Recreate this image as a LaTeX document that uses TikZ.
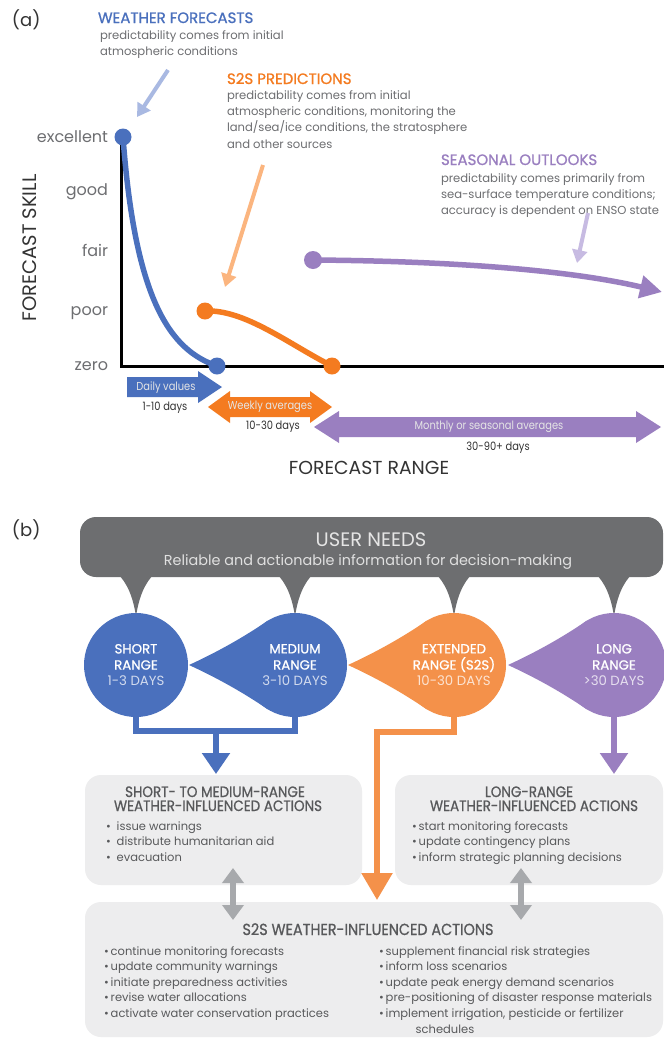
\documentclass[tikz,border=0pt]{standalone}
\usepackage{fontspec}
\setmainfont{Poppins}
\newfontfamily\medfont{Poppins}[FakeBold=1]
\newfontfamily\condfont{Poppins}[FakeStretch=0.86]
\newfontfamily\hdfont{Poppins}[FakeStretch=0.9,FakeBold=0.8]
\usetikzlibrary{arrows.meta,calc}
\definecolor{wblue}{HTML}{4A70BD}
\definecolor{lblue}{HTML}{A9B9E2}
\definecolor{sorange}{HTML}{F47B20}
\definecolor{lorange}{HTML}{FBB57F}
\definecolor{corange}{HTML}{F4914A}
\definecolor{spurple}{HTML}{9A7FC0}
\definecolor{lpurple}{HTML}{C7BBE2}
\definecolor{txtgray}{HTML}{6D6E71}
\definecolor{darktxt}{HTML}{333333}
\definecolor{boxgray}{HTML}{6D6E70}
\definecolor{panel}{HTML}{EDEDEE}
\definecolor{arrgray}{HTML}{A7A9AC}
\definecolor{headgray}{HTML}{58595B}
\begin{document}
\begin{tikzpicture}[x=1pt,y=-1pt,
  every node/.style={inner sep=0pt, outer sep=0pt},
  sdot/.style={circle, minimum size=17pt},
  skillcurve/.style={line width=5.5pt, line cap=round},
  ptr/.style={line width=4pt, -{Triangle[length=13pt,width=15pt]}},
  lbl/.style={anchor=base east, font=\fontsize{16}{16}\selectfont, text=txtgray},
  capt/.style={anchor=base west, align=left, font=\fontsize{11.6}{16.3}\selectfont, text=txtgray},
  ttl/.style={anchor=base west, font=\medfont\fontsize{15}{16}\selectfont},
  arrlbl/.style={font=\condfont\fontsize{11.5}{12}\selectfont, text=white!90!black},
  daylbl/.style={font=\condfont\fontsize{11.5}{12}\selectfont, text=darktxt},
  conn/.style={line width=5.5pt},
  bubble/.style={circle, minimum size=104pt, align=center, text=white, font=\fontsize{13.3}{16.2}\selectfont},
  panelbox/.style={rectangle, rounded corners=16pt, fill=panel},
  bhead/.style={anchor=base, font=\hdfont\fontsize{15}{15}\selectfont, text=headgray},
  blist/.style={anchor=base west, align=left, font=\fontsize{11.5}{15.6}\selectfont, text=headgray},
  garr/.style={line width=6pt, draw=arrgray, {Triangle[length=15pt,width=21pt]}-{Triangle[length=15pt,width=21pt]}},
]
\useasboundingbox (0,0) rectangle (664,1039);
\fill[white] (0,0) rectangle (664,1039);

% ---------------- part (a) ----------------
\node[anchor=base west, font=\fontsize{18}{18}\selectfont, text=darktxt] (pa) at (12,26) {(a)};

\node[ttl, text=wblue] (wft) at (98,23) {WEATHER FORECASTS};
\node[capt] (wfb) at (100,55.5) {predictability comes from initial\\atmospheric conditions};

\node[ttl, text=sorange] (s2t) at (227,84) {S2S PREDICTIONS};
\node[capt] (s2b) at (227,148) {predictability comes from initial\\atmospheric conditions, monitoring the\\land/sea/ice conditions, the stratosphere\\and other sources};

\node[ttl, text=spurple] (sot) at (441,165) {SEASONAL OUTLOOKS};
\node[capt] (sob) at (441,214.6) {predictability comes primarily from\\sea-surface temperature conditions;\\accuracy is dependent on ENSO state};

\coordinate (pw1) at (168,70); \coordinate (pw2) at (137,117);
\draw[ptr, lblue] (pw1) -- (pw2);
\coordinate (po1) at (263,165); \coordinate (po2) at (225,287);
\draw[ptr, lorange] (po1) -- (po2);
\coordinate (pp1) at (588,213); \coordinate (pp2) at (577,263);
\draw[ptr, lpurple] (pp1) -- (pp2);

\node[lbl] (lex) at (108,142) {excellent};
\node[lbl] (lgo) at (108,195) {good};
\node[lbl] (lfa) at (108,256) {fair};
\node[lbl] (lpo) at (108,315) {poor};
\node[lbl] (lze) at (108,370) {zero};
\node[rotate=90, font=\fontsize{19.5}{20}\selectfont, text=darktxt] (ysk) at (30,248) {FORECAST SKILL};

\coordinate (ax0) at (121,137); \coordinate (ax1) at (121,366); \coordinate (ax2) at (664,366);
\draw[line width=3pt] (ax0) -- (ax1) -- (ax2);

\coordinate (b1) at (123,137); \coordinate (b2) at (217,366);
\coordinate (o1) at (205,311); \coordinate (o2) at (332,366);
\coordinate (p1) at (313,260); \coordinate (pend) at (662,292);
\draw[skillcurve, wblue] (b1) .. controls (135,300) and (170,350) .. (b2);
\draw[skillcurve, sorange] (o1) .. controls (245,309) and (290,345) .. (o2);
\draw[line width=5.5pt, spurple, -{Triangle[length=22pt,width=22pt]}] (p1) .. controls (450,261) and (570,270) .. (pend);
\node[sdot, fill=wblue] (db1) at (b1) {};
\node[sdot, fill=wblue] (db2) at (b2) {};
\node[sdot, fill=sorange] (do1) at (o1) {};
\node[sdot, fill=sorange] (do2) at (o2) {};
\node[sdot, fill=spurple, minimum size=18pt] (dp1) at (p1) {};

% range arrows
\fill[wblue] (127,377) -- (198,377) -- (198,371) -- (222,387) -- (198,403) -- (198,397) -- (127,397) -- cycle;
\node[arrlbl] (dvl) at (166,388) {Daily values};
\node[daylbl] (dvd) at (165,408) {1-10 days};
\fill[sorange] (208,407) -- (230,391) -- (230,397) -- (310,397) -- (310,391) -- (332,407) -- (310,423) -- (310,417) -- (230,417) -- (230,423) -- cycle;
\node[arrlbl] (wal) at (270,407) {Weekly averages};
\node[daylbl] (wad) at (273,427) {10-30 days};
\fill[spurple] (314,427) -- (339,411) -- (339,417) -- (636,417) -- (636,411) -- (661,427) -- (636,443) -- (636,437) -- (339,437) -- (339,443) -- cycle;
\node[arrlbl] (msl) at (489,427) {Monthly or seasonal averages};
\node[daylbl] (msd) at (498,448) {30-90+ days};

\node[font=\fontsize{18.8}{19}\selectfont, text=darktxt] (frg) at (369,468) {FORECAST RANGE};

% ---------------- part (b) ----------------
\node[anchor=base west, font=\fontsize{18}{18}\selectfont, text=darktxt] (pb) at (12,536) {(b)};

\foreach \cx in {136,295,454,614} {
  \fill[boxgray] (\cx-24,566) -- (\cx-20,572) .. controls (\cx-8,583) and (\cx-3,598) .. (\cx,616)
     .. controls (\cx+3,598) and (\cx+8,583) .. (\cx+20,572) -- (\cx+24,566) -- cycle;
}
\node[rectangle, rounded corners=16pt, fill=boxgray, minimum width=583pt, minimum height=60pt] (un) at (371.5,547) {};
\node[anchor=base, font=\fontsize{19.5}{20}\selectfont, text=white!90!black] (unt) at (371,546) {USER NEEDS};
\node[anchor=base, font=\fontsize{14.4}{15}\selectfont, text=white!88!black] (uns) at (368,565) {Reliable and actionable information for decision-making};

\foreach \cx/\col in {295/wblue, 454/corange, 614/spurple} {
  \fill[\col] (\cx-106,665) .. controls (\cx-80,653) and (\cx-54,639) .. (\cx-26.8,620.4) -- (\cx,665) -- (\cx-26.8,709.6) .. controls (\cx-54,691) and (\cx-80,677) .. cycle;
}
\node[bubble, fill=wblue] (short) at (136,665) {{\medfont SHORT}\\{\medfont RANGE}\\{\color{white!75!wblue}1-3 DAYS}};
\node[bubble, fill=wblue] (medium) at (295,665) {{\medfont MEDIUM}\\{\medfont RANGE}\\{\color{white!75!wblue}3-10 DAYS}};
\node[bubble, fill=corange] (ext) at (454,665) {{\medfont EXTENDED}\\{\medfont RANGE (S2S)}\\{\color{white!75!corange}10-30 DAYS}};
\node[bubble, fill=spurple] (long) at (614,665) {{\medfont LONG}\\{\medfont RANGE}\\{\color{white!75!spurple}>30 DAYS}};

% panels
\node[panelbox, minimum width=277pt, minimum height=110pt] (smbox) at (223.5,830) {};
\node[panelbox, minimum width=268pt, minimum height=110pt] (lrbox) at (529,830) {};
\node[panelbox, minimum width=578pt, minimum height=135pt] (s2box) at (374,969.5) {};

% connectors
\coordinate (bj) at (216,731); \coordinate (bjt) at (216,774);
\draw[conn, wblue] (short.south) |- (medium.south |- bj) -- (medium.south);
\draw[conn, wblue, -{Triangle[length=21pt,width=27pt]}] (bj) -- (bjt);
\coordinate (oj) at (377,732); \coordinate (ojt) at (377,900);
\draw[conn, corange, -{Triangle[length=27pt,width=30pt]}] (ext.south) |- (oj) -- (ojt);
\coordinate (ljt) at (614,774);
\draw[conn, spurple, -{Triangle[length=21pt,width=27pt]}] (long.south) -- (ljt);

\coordinate (ga1) at (233,868); \coordinate (ga2) at (233,920);
\draw[garr] (ga1) -- (ga2);
\coordinate (gb1) at (521,868); \coordinate (gb2) at (521,920);
\draw[garr] (gb1) -- (gb2);

% panel texts
\node[bhead] (smh1) at (215,797) {SHORT- TO MEDIUM-RANGE};
\node[bhead] (smh2) at (218,811) {WEATHER-INFLUENCED ACTIONS};
\node[blist] (sml) at (106,861.2) {•\hspace{6pt}issue warnings\\•\hspace{6pt}distribute humanitarian aid\\•\hspace{6pt}evacuation};

\node[bhead] (lrh1) at (529,797) {LONG-RANGE};
\node[bhead] (lrh2) at (534,811) {WEATHER-INFLUENCED ACTIONS};
\node[blist] (lrl) at (412,861.2) {•\hspace{2pt}start monitoring forecasts\\•\hspace{2pt}update contingency plans\\•\hspace{2pt}inform strategic planning decisions};

\node[bhead, font=\hdfont\fontsize{16}{16}\selectfont] (s2h) at (368,935) {S2S WEATHER-INFLUENCED ACTIONS};
\node[blist] (s2l) at (104,1017.4) {•\hspace{2pt}continue monitoring forecasts\\•\hspace{2pt}update community warnings\\•\hspace{2pt}initiate preparedness activities\\•\hspace{2pt}revise water allocations\\•\hspace{2pt}activate water conservation practices};
\node[blist] (s2r) at (379,1017.4) {•\hspace{2pt}supplement financial risk strategies\\•\hspace{2pt}inform loss scenarios\\•\hspace{2pt}update peak energy demand scenarios\\•\hspace{2pt}pre-positioning of disaster response materials\\•\hspace{2pt}implement irrigation, pesticide or fertilizer};
\node[anchor=base, font=\fontsize{11.5}{15.6}\selectfont, text=headgray] (sch) at (445,1033) {schedules};
\end{tikzpicture}
\end{document}
